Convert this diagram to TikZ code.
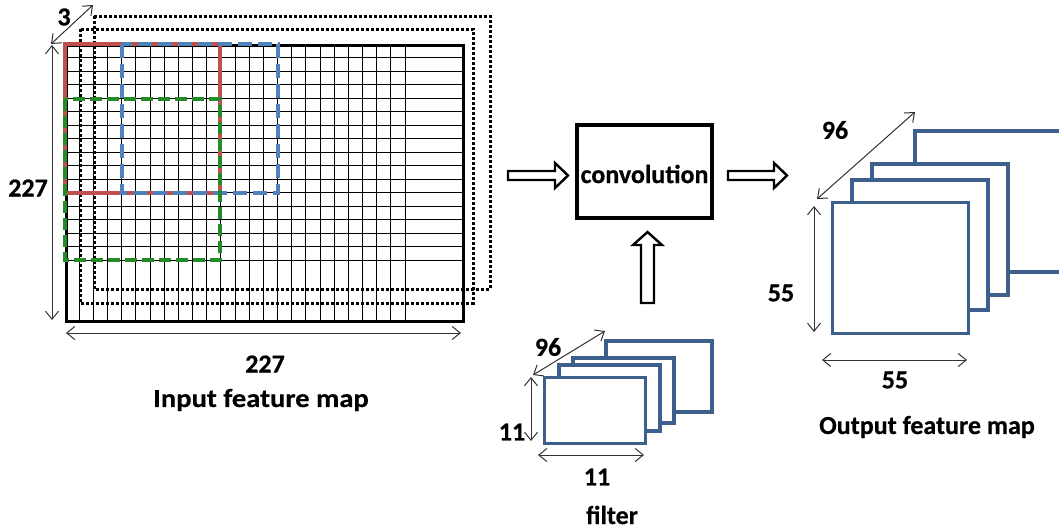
\documentclass[tikz,border=0pt]{standalone}
\usepackage{fontspec}
\setmainfont{Carlito}[BoldFeatures={FakeBold=0.5}]
\usetikzlibrary{arrows.meta}
\definecolor{redc}{RGB}{192,80,77}
\definecolor{bluec}{RGB}{79,129,189}
\definecolor{greenc}{RGB}{35,140,40}
\definecolor{stackc}{RGB}{60,95,140}
\definecolor{dimc}{RGB}{50,50,50}
\begin{document}
\begin{tikzpicture}[x=1pt,y=-1pt,
  lbl/.style={font=\fontsize{26}{30}\selectfont\bfseries, inner sep=0pt, text=black},
  dim/.style={draw=dimc, line width=1, {Straight Barb[length=8,width=13]}-{Straight Barb[length=8,width=13]}},
  gridline/.style={draw=black, line width=1.2},
  dots/.style={draw=black, line width=3, dash pattern=on 2.8 off 2.2},
  stackbox/.style={draw=stackc, fill=white, line width=3.4},
  hollow/.style={draw=black, fill=white, line width=2.4, line join=miter},
]
\clip (0,0) rectangle (1059,531);
\fill[white] (0,0) rectangle (1059,531);

% ---------- input feature map ----------
\draw[dots] (94,16) rectangle (490,289);
\draw[dots] (80,29) rectangle (473,303);
\foreach \i in {0,...,24} {
  \pgfmathsetmacro{\gx}{floor(65+\i*14.167)+0.5}
  \draw[gridline] (\gx,44) -- (\gx,320);
}
\foreach \j in {0,...,16} {
  \pgfmathsetmacro{\gy}{floor(44+\j*13.5)+0.5}
  \draw[gridline] (65,\gy) -- (462,\gy);
}
\node[draw=black, line width=3.4, minimum width=397, minimum height=276, inner sep=0pt, anchor=north west] (inmap) at (65,44) {};
\draw[redc, line width=3.6] (65,44) rectangle (220,193);
\draw[bluec, line width=4, dash pattern=on 14 off 6] (122,44) rectangle (278,193);
\draw[greenc, line width=4, dash pattern=on 12 off 5] (65,99) rectangle (220,260);

\coordinate (d3a) at (51,44);
\coordinate (d3b) at (93,5);
\draw[dim] (d3a) -- (d3b);
\node[lbl] (l3) at (64,17) {3};
\coordinate (dva) at (52,45);
\coordinate (dvb) at (52,320);
\draw[dim] (dva) -- (dvb);
\node[lbl] (lv) at (28,188) {227};
\coordinate (dha) at (66,333);
\coordinate (dhb) at (461,333);
\draw[dim] (dha) -- (dhb);
\node[lbl] (lh) at (265,364) {227};
\node[lbl] (lin) at (261,400) {\scalebox{1.1}[1]{Input feature map}};

% ---------- convolution ----------
\node[draw=black, line width=3.4, minimum width=135, minimum height=93, inner sep=0pt] (conv) at (644.5,171.5) {};
\node[lbl] (convt) at (644.5,174) {convolution};

\draw[hollow] (508,171) -- (555,171) -- (555,163) -- (568,175.5) -- (555,188) -- (555,180) -- (508,180) -- cycle;
\draw[hollow] (728,171) -- (774,171) -- (774,163) -- (787,175.5) -- (774,188) -- (774,180) -- (728,180) -- cycle;
\draw[hollow] (641,303) -- (641,245) -- (633,245) -- (647.5,232) -- (662,245) -- (654,245) -- (654,303) -- cycle;

% ---------- filter ----------
\draw[stackbox] (606,341) rectangle (712,412);
\draw[stackbox] (573,358) rectangle (674,423);
\draw[stackbox] (559,365) rectangle (660,431);
\node[stackbox, minimum width=101, minimum height=66, inner sep=0pt, anchor=north west] (filt) at (543,376) {};
\coordinate (f96a) at (533,375);
\coordinate (f96b) at (605,331);
\draw[dim] (f96a) -- (f96b);
\node[lbl] (lf96) at (548,347) {96};
\coordinate (fva) at (531,377);
\coordinate (fvb) at (531,441);
\draw[dim] (fva) -- (fvb);
\node[lbl] (lfv) at (512,432) {11};
\coordinate (fha) at (538,455);
\coordinate (fhb) at (644,455);
\draw[dim] (fha) -- (fhb);
\node[lbl] (lfh) at (597,477) {11};
\node[lbl] (lfilt) at (612,515) {filter};

% ---------- output ----------
\draw[stackbox] (915,131) rectangle (1075,272);
\draw[stackbox] (872,164) rectangle (1008,295);
\draw[stackbox] (852,180) rectangle (988,310);
\node[stackbox, minimum width=136, minimum height=131, inner sep=0pt, anchor=north west] (outmap) at (831,201) {};
\coordinate (o96a) at (817,199);
\coordinate (o96b) at (915,112);
\draw[dim] (o96a) -- (o96b);
\node[lbl] (lo96) at (835,130) {96};
\coordinate (ova) at (814,206);
\coordinate (ovb) at (814,332);
\draw[dim] (ova) -- (ovb);
\node[lbl] (lov) at (781,293) {55};
\coordinate (oha) at (822,360);
\coordinate (ohb) at (967,360);
\draw[dim] (oha) -- (ohb);
\node[lbl] (loh) at (895,380) {55};
\node[lbl] (lout) at (927,427) {Output feature map};
\end{tikzpicture}
\end{document}
